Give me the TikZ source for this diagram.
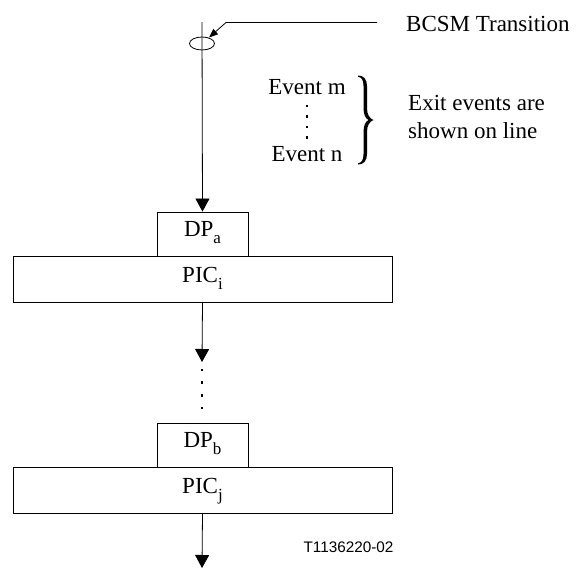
\documentclass[tikz,border=0pt]{standalone}
\usepackage{fontspec}
\setmainfont{Liberation Serif}
\newfontfamily\labelsans{Liberation Sans}
\usetikzlibrary{arrows.meta}
\newcommand{\lowsub}[1]{\raisebox{-7pt}{\fontsize{17}{17}\selectfont #1}}
\tikzset{
  line/.style={line width=0.8pt, draw=black},
  flow/.style={line, -{Triangle[length=13pt,width=14pt]}},
  boxtext/.style={font=\fontsize{23}{28}\selectfont, inner sep=0pt},
  dpbox/.style={boxtext, draw, line width=0.9pt, minimum width=91pt, minimum height=44pt,
    text height=10pt, text depth=6pt},
  picbox/.style={boxtext, draw, line width=0.9pt, minimum width=379pt, minimum height=46pt,
    text height=11pt, text depth=5pt},
  txt/.style={font=\fontsize{23}{28}\selectfont, inner sep=0pt},
  dot/.style={fill=black, minimum size=2.2pt, inner sep=0pt, shape=rectangle},
}
\begin{document}
\begin{tikzpicture}[x=1pt, y=-1pt]
  \useasboundingbox (0,0) rectangle (578,568);

  % transition line with its loop
  \coordinate (top) at (202,22);
  \node[dpbox] (dpa) at (202.5,234) {DP\lowsub{a}};
  \node[picbox] (pici) at (202.5,279) {PIC\lowsub{i}};
  \draw[flow] (top) -- (dpa.north);
  \draw[line] (202,43.5) ellipse [x radius=12.5pt, y radius=6.5pt];

  % leader to the label
  \coordinate (lstart) at (377,22.5);
  \coordinate (lbend) at (226,22.5);
  \coordinate (ltip) at (209,37.5);
  \draw[line, -{Triangle[length=9pt,width=7pt]}] (lstart) -- (lbend) -- (ltip);
  \node[txt, anchor=base west] (bcsm) at (406,31) {BCSM Transition};

  % exit events
  \node[txt, anchor=base] (evm) at (307,94) {Event m};
  \node[txt, anchor=base] (evn) at (307,161) {Event n};
  \foreach \yy in {106,116.5,127,137.5}
    \node[dot] at (307,\yy) {};
  % right curly brace
  \fill (358,75.5) .. controls (363.5,75.5) and (367,79) .. (367,86)
        -- (367,108) .. controls (367,114.5) and (369.5,118.5) .. (373.5,120)
        .. controls (369.5,121.5) and (367,125.5) .. (367,132)
        -- (367,154) .. controls (367,161) and (363.5,164.5) .. (358,164.5)
        -- (358,163.3) .. controls (361.5,163) and (363.5,160) .. (363.5,154)
        -- (363.5,132) .. controls (363.5,125.5) and (365.5,121.5) .. (368.5,120)
        .. controls (365.5,118.5) and (363.5,114.5) .. (363.5,108)
        -- (363.5,86) .. controls (363.5,80) and (361.5,77) .. (358,76.7) -- cycle;
  \node[txt, anchor=base west] (exit1) at (408,110) {Exit events are};
  \node[txt, anchor=base west] (exit2) at (408,138) {shown on line};

  % next PIC
  \coordinate (tipmid) at (202,362);
  \draw[flow] (pici.south) -- (tipmid);
  \foreach \yy in {370,382.5,395.5,408}
    \node[dot] at (202,\yy) {};

  \node[dpbox] (dpb) at (202.5,445) {DP\lowsub{b}};
  \node[picbox] (picj) at (202.5,490) {PIC\lowsub{j}};
  \coordinate (bottom) at (202,568);
  \draw[flow] (picj.south) -- (bottom);

  \node[font=\labelsans\fontsize{15.3}{17}\selectfont, inner sep=0pt] (ref) at (348.5,547.5) {T1136220-02};
\end{tikzpicture}
\end{document}
